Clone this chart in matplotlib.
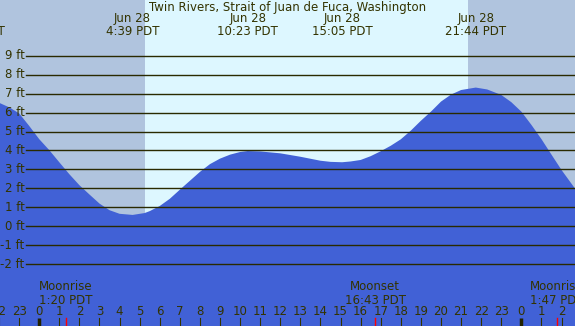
import numpy as np
import matplotlib
matplotlib.use("Agg")
import matplotlib.pyplot as plt
import matplotlib.transforms as mtransforms

# tide heights (ft), hours from midnight Jun 28 (PDT)
tide_hours = [-3.2, -2.0, -1.5, -1.0, -0.5, 0.0, 0.5, 1.0, 1.5, 2.0, 2.5, 3.0, 3.5,
              4.0, 4.65, 5.25, 5.5, 6.0, 6.5, 7.0, 7.5, 8.0, 8.5, 9.0, 9.5, 10.0,
              10.38, 11.0, 12.0, 13.0, 14.0, 14.5, 15.08, 15.5, 16.0, 16.5, 17.0,
              17.5, 18.0, 18.5, 19.0, 19.5, 20.0, 20.5, 21.0, 21.73, 22.3, 23.0,
              23.5, 24.0, 24.5, 25.0, 25.5, 26.0, 26.7]
tide_ft = [6.9, 6.52, 6.28, 5.96, 5.3, 4.6, 4.02, 3.38, 2.75, 2.17, 1.68, 1.2, 0.85,
           0.66, 0.6, 0.7, 0.8, 1.07, 1.45, 1.93, 2.4, 2.87, 3.28, 3.57, 3.78, 3.92,
           3.97, 3.95, 3.85, 3.67, 3.46, 3.4, 3.38, 3.42, 3.5, 3.7, 3.96,
           4.25, 4.59, 5.05, 5.57, 6.05, 6.58, 6.95, 7.19, 7.32, 7.22, 6.93,
           6.55, 6.05, 5.35, 4.6, 3.78, 2.97, 1.95]

# high / low tide labels
extreme_hours = [-3.2, 4.65, 10.38, 15.08, 21.73]
extreme_labels = ["Jun 27\n20:48 PDT", "Jun 28\n4:39 PDT", "Jun 28\n10:23 PDT",
                  "Jun 28\n15:05 PDT", "Jun 28\n21:44 PDT"]

# sun and moon
sunrise, sunset = 5.27, 21.34
moon_hours = [1.333, 16.717, 25.783]
moon_labels = ["Moonrise\n1:20 PDT", "Moonset\n16:43 PDT", "Moonrise\n1:47 PDT"]

ft_levels = list(range(-2, 10))
hour_ticks = list(range(-2, 27))

W, H = 575, 326
x0, x1 = -1.951, 26.67
y0, y1 = -5.26, 11.94

night = "#b0c4de"
day = "#ddf7ff"
water = "#4161d6"
ink = "#333300"

fig = plt.figure(figsize=(W / 100, H / 100), dpi=100)
ax = fig.add_axes([0, 0, 1, 1])
ax.set_xlim(x0, x1)
ax.set_ylim(y0, y1)
ax.axis("off")

ax.axvspan(x0, sunrise, color=night, lw=0, zorder=0)
ax.axvspan(sunrise, sunset, color=day, lw=0, zorder=0)
ax.axvspan(sunset, x1, color=night, lw=0, zorder=0)

ax.fill_between(tide_hours, tide_ft, y0 - 1, color=water, lw=0, zorder=1)

lbl = mtransforms.blended_transform_factory(ax.transAxes, ax.transData)
for f in ft_levels:
    ax.axhline(f, xmin=26 / W, xmax=1, color="#2a2a00", lw=1.0, zorder=2)
    ax.text(24.5 / W, f, f"{f} ft", transform=lbl, ha="right", va="center",
            fontsize=8.5, color=ink)

fig.text(0.5, 1 - 7.5 / H, "Twin Rivers, Strait of Juan de Fuca, Washington",
         ha="center", va="center", fontsize=8.5, color=ink)

top = mtransforms.blended_transform_factory(ax.transData, fig.transFigure)
for h, s in zip(extreme_hours, extreme_labels):
    ax.text(h, 1 - 25 / H, s, transform=top, ha="center", va="center",
            fontsize=8.5, color=ink, linespacing=1.0)

for h, s in zip(moon_hours, moon_labels):
    ax.text(h, 1 - 293.5 / H, s, transform=top, ha="center", va="center",
            fontsize=8.5, color=ink, linespacing=1.0)
    ax.plot([h, h], [0, 8 / H], transform=top, color="red", lw=1, zorder=3)

for h in hour_ticks:
    ax.text(h, 1 - 311.5 / H, str(h % 24), transform=top, ha="center",
            va="center", fontsize=8.5, color=ink)
    if h % 24 == 0:
        ax.plot([h, h], [0, 8 / H], transform=top, color="#222200", lw=2.5,
                solid_capstyle="butt", zorder=3)
    else:
        ax.plot([h, h], [0, 8 / H], transform=top, color=ink, lw=0.8, zorder=3)

fig.savefig("out.png", dpi=100)
